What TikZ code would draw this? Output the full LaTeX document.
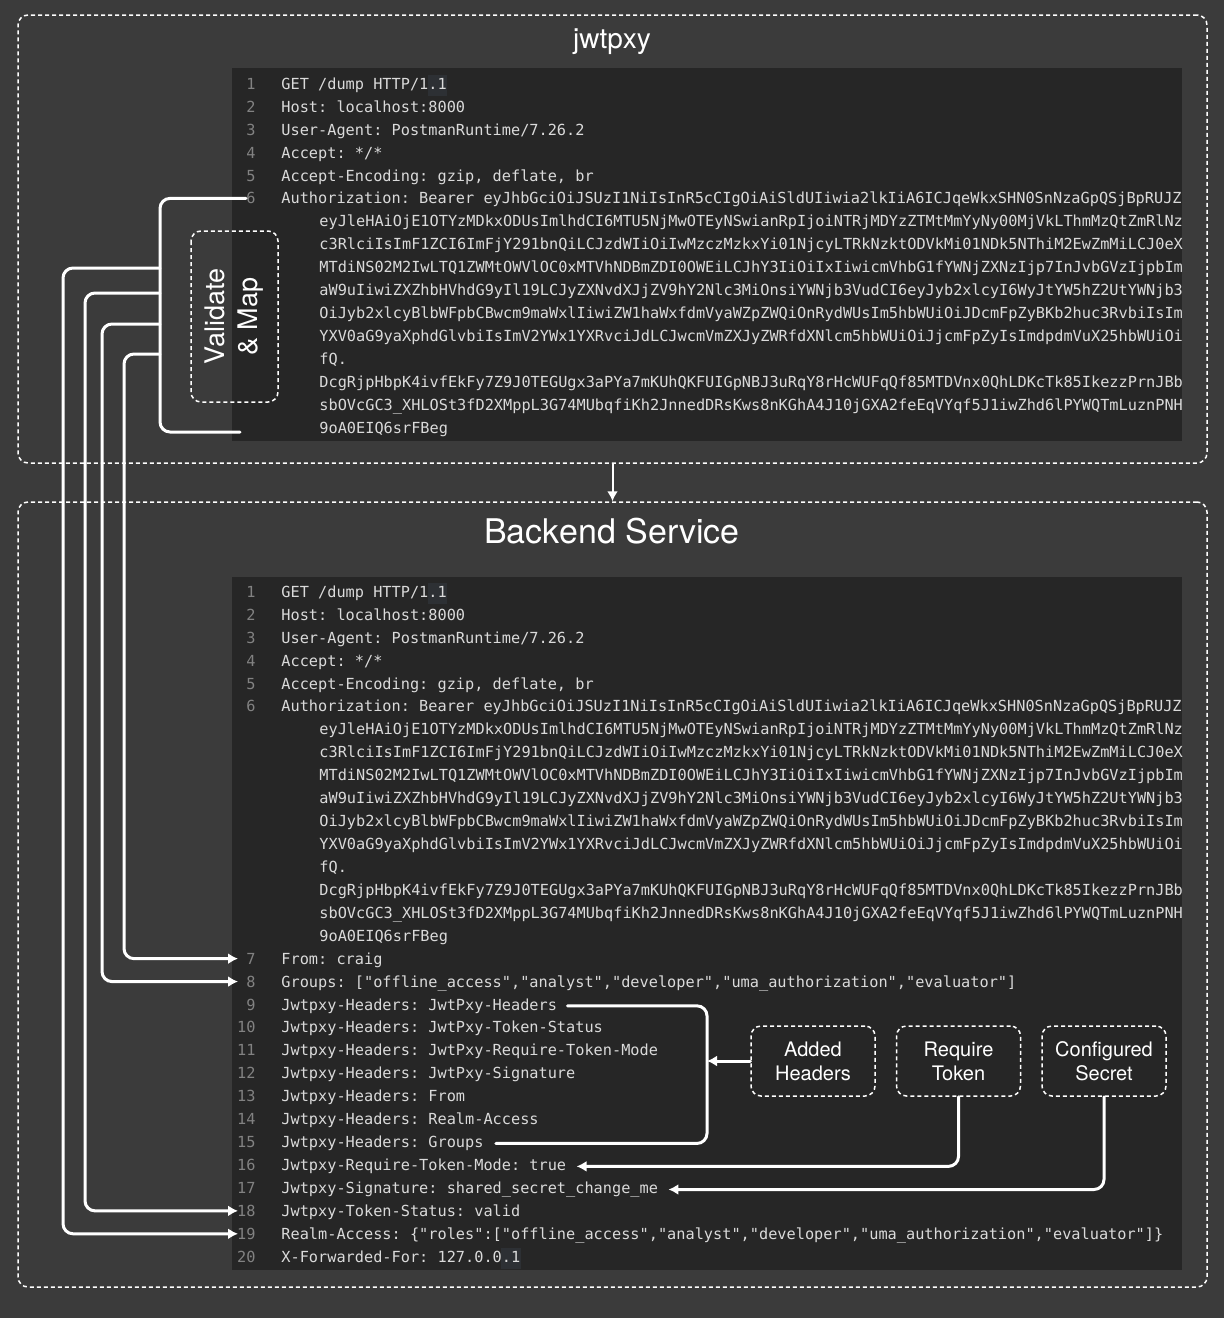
\documentclass[tikz,border=0pt]{standalone}
\usepackage{fontspec}
\setsansfont{TeX Gyre Heros}
\newfontfamily\codefont{DejaVu Sans Mono}
\usetikzlibrary{arrows.meta,positioning,fit}

\definecolor{canvas}{RGB}{59,59,59}
\definecolor{panelbg}{RGB}{38,38,38}
\definecolor{codegray}{RGB}{218,218,218}
\definecolor{numgray}{RGB}{130,130,130}
\definecolor{cursorbg}{RGB}{45,48,52}

\tikzset{
  container/.style = {draw = white, line width = .75pt, dash pattern = on 2pt off 1.5pt,
    rounded corners = 5pt, inner sep = 0pt},
  codepanel/.style = {fill = panelbg, inner sep = 0pt},
  codetxt/.style = {anchor = mid west, inner sep = 0pt, text = codegray,
    font = \codefont\fontsize{7.63}{9}\selectfont\frenchspacing},
  numtxt/.style = {anchor = mid east, inner sep = 0pt, text = numgray,
    font = \codefont\fontsize{7.63}{9}\selectfont},
  title/.style = {text = white, inner sep = 0pt, font = \sffamily\fontsize{#1}{#1}\selectfont},
  tag/.style = {container, minimum width = 62pt, minimum height = 35pt, text = white,
    align = center, font = \sffamily\fontsize{10}{12}\selectfont},
  link/.style = {draw = white, line width = 1.5pt, line cap = round, rounded corners = 5pt}
}

\begin{document}
\begin{tikzpicture}[x = .5pt, y = -.5pt, >={Latex[length = 5pt, width = 5.5pt]}]
        % draws the background
        \fill[canvas] (0,0) rectangle (1224,1318);
        \useasboundingbox (0,0) rectangle (1224,1318);

        % draws the two services
        \node[container, fit = {(18,15) (1207,463)}] (proxy) {};
        \node[container, fit = {(18,502) (1207,1287)}] (backend) {};
        \node[title = 14] (proxytitle) at (612,42) {jwtpxy};
        \node[title = 17] (backendtitle) at (612,531) {Backend Service};
        \node[codepanel, fit = {(232,68) (1182,441)}] (toppanel) {};
        \node[codepanel, fit = {(232,577) (1182,1270)}] (botpanel) {};

        % draws the cursor marks
        \fill[cursorbg] (428,75) rectangle (447,96);
        \fill[cursorbg] (428,583) rectangle (447,604);
        \fill[cursorbg] (501,1248) rectangle (521,1269);

        % draws the request lines
        \foreach \blk/\yo in {t/85, b/593} {
          \foreach \txt [count = \i] in {{GET /dump HTTP/1.1}, {Host: localhost:8000},
              {User-Agent: PostmanRuntime/7.26.2}, {Accept: */*},
              {Accept-Encoding: gzip, deflate, br},
              {Authorization: Bearer eyJhbGciOiJSUzI1NiIsInR5cCIgOiAiSldUIiwia2lkIiA6ICJqeWkxSHN0SnNzaGpQSjBpRUJZ}} {
            \node[numtxt] (\blk n\i) at (256, {\yo+(\i-1)*22.93}) {\i};
            \node[codetxt] (\blk c\i) at (281, {\yo+(\i-1)*22.93}) {\txt};
          }
          \foreach \txt [count = \i] in {
              {eyJleHAiOjE1OTYzMDkxODUsImlhdCI6MTU5NjMwOTEyNSwianRpIjoiNTRjMDYzZTMtMmYyNy00MjVkLThmMzQtZmRlNz},
              {c3RlciIsImF1ZCI6ImFjY291bnQiLCJzdWIiOiIwMzczMzkxYi01NjcyLTRkNzktODVkMi01NDk5NThiM2EwZmMiLCJ0eX},
              {MTdiNS02M2IwLTQ1ZWMtOWVlOC0xMTVhNDBmZDI0OWEiLCJhY3IiOiIxIiwicmVhbG1fYWNjZXNzIjp7InJvbGVzIjpbIm},
              {aW9uIiwiZXZhbHVhdG9yIl19LCJyZXNvdXJjZV9hY2Nlc3MiOnsiYWNjb3VudCI6eyJyb2xlcyI6WyJtYW5hZ2UtYWNjb3},
              {OiJyb2xlcyBlbWFpbCBwcm9maWxlIiwiZW1haWxfdmVyaWZpZWQiOnRydWUsIm5hbWUiOiJDcmFpZyBKb2huc3RvbiIsIm},
              {YXV0aG9yaXphdGlvbiIsImV2YWx1YXRvciJdLCJwcmVmZXJyZWRfdXNlcm5hbWUiOiJjcmFpZyIsImdpdmVuX25hbWUiOi},
              {fQ.},
              {DcgRjpHbpK4ivfEkFy7Z9J0TEGUgx3aPYa7mKUhQKFUIGpNBJ3uRqY8rHcWUFqQf85MTDVnx0QhLDKcTk85IkezzPrnJBb},
              {sbOVcGC3\_XHLOSt3fD2XMppL3G74MUbqfiKh2JnnedDRsKws8nKGhA4J10jGXA2feEqVYqf5J1iwZhd6lPYWQTmLuznPNH},
              {9oA0EIQ6srFBeg}}
            \node[codetxt] (\blk k\i) at (319, {\yo+(\i+5)*22.93}) {\txt};
        }
        \foreach \txt [count = \i from 7] in {{From: craig},
            {Groups: ["offline\_access","analyst","developer","uma\_authorization","evaluator"]},
            {Jwtpxy-Headers: JwtPxy-Headers}, {Jwtpxy-Headers: JwtPxy-Token-Status},
            {Jwtpxy-Headers: JwtPxy-Require-Token-Mode}, {Jwtpxy-Headers: JwtPxy-Signature},
            {Jwtpxy-Headers: From}, {Jwtpxy-Headers: Realm-Access}, {Jwtpxy-Headers: Groups},
            {Jwtpxy-Require-Token-Mode: true}, {Jwtpxy-Signature: shared\_secret\_change\_me},
            {Jwtpxy-Token-Status: valid},
            {Realm-Access: \{"roles":["offline\_access","analyst","developer","uma\_authorization","evaluator"]\}},
            {X-Forwarded-For: 127.0.0.1}} {
          \node[numtxt] (bn\i) at (256, {593+(\i+9)*22.93}) {\i};
          \node[codetxt] (bc\i) at (281, {593+(\i+9)*22.93}) {\txt};
        }

        % draws the validate and map step
        \coordinate (tokenend) at (240,432);
        \coordinate (gutter) at (238,0);
        \draw[link] (tn6.west) -| (160,300) |- (tokenend);
        \node[container, minimum width = 85.5pt, minimum height = 43.5pt, text = white,
          align = center, rotate = 90, font = \sffamily\fontsize{13.5}{16.5}\selectfont]
          (validate) at (234.5,316.5) {Validate\\\& Map};
        \foreach \by/\bx/\dst in {268/63/bn19, 293/85/bn18, 324/102/bn8, 354/124/bn7}
          \draw[link, ->] (160,\by) -- (\bx,\by) |- (\dst.west -| gutter);

        % draws the added headers
        \node[tag] (added) at (813,1061) {Added\\Headers};
        \node[tag, right = 10pt of added] (reqtoken) {Require\\Token};
        \node[tag, right = 10pt of reqtoken] (cfgsecret) {Configured\\Secret};
        \coordinate (hdrbar) at (707,0);
        \draw[link] ([xshift = 5pt]bc9.east) -| (hdrbar |- bc15.east) -- ([xshift = 6pt]bc15.east);
        \draw[link, ->] (added.west) -- (added.west -| hdrbar);
        \draw[link, ->] (reqtoken.south) |- ([xshift = 5pt]bc16.east);
        \draw[link, ->] (cfgsecret.south) |- ([xshift = 5pt]bc17.east);

        % draws the hand-over
        \draw[link, line width = 1pt, ->] (proxy.south) -- (backend.north);
      \end{tikzpicture}
\end{document}
